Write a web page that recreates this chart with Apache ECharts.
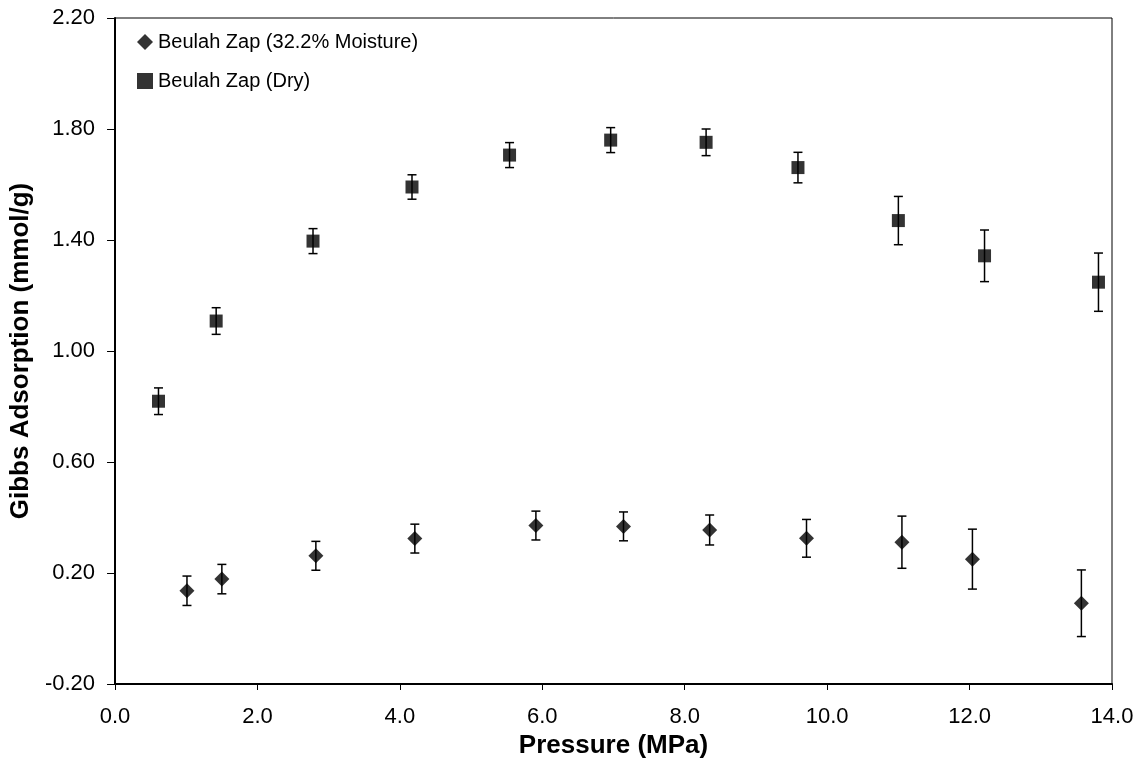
<!DOCTYPE html>
<html><head><meta charset="utf-8">
<script src="https://cdn.jsdelivr.net/npm/echarts@6/dist/echarts.min.js"></script>
<style>html,body{margin:0;padding:0;background:#fff}#c{width:1147px;height:765px}</style>
</head><body><div id="c"></div>
<script>
// Beulah Zap (32.2% Moisture)
const moistX   = [1.01, 1.50, 2.82, 4.21, 5.91, 7.14, 8.35, 9.71, 11.05, 12.04, 13.57];
const moistY   = [0.136, 0.178, 0.262, 0.324, 0.371, 0.368, 0.355, 0.325, 0.311, 0.250, 0.091];
const moistErr = [0.053, 0.053, 0.052, 0.052, 0.052, 0.052, 0.054, 0.068, 0.094, 0.108, 0.120];
// Beulah Zap (Dry)
const dryX   = [0.61, 1.42, 2.78, 4.17, 5.54, 6.96, 8.30, 9.59, 11.00, 12.21, 13.81];
const dryY   = [0.819, 1.108, 1.396, 1.591, 1.706, 1.760, 1.752, 1.661, 1.470, 1.343, 1.248];
const dryErr = [0.048, 0.048, 0.045, 0.044, 0.045, 0.045, 0.048, 0.055, 0.087, 0.093, 0.105];
const yTicks = [-0.2, 0.2, 0.6, 1.0, 1.4, 1.8, 2.2];
const seriesNames = ['Beulah Zap (32.2% Moisture)', 'Beulah Zap (Dry)'];

const FONT = '"Liberation Sans", Arial, sans-serif';
const pts = (xs, ys) => xs.map((x, i) => [x, ys[i]]);
const errs = (xs, ys, es) => xs.map((x, i) => [x, ys[i] - es[i], ys[i] + es[i]]);

function errItem(params, api) {
  const x = api.value(0), lo = api.value(1), hi = api.value(2);
  const pLo = api.coord([x, lo]), pHi = api.coord([x, hi]);
  const hw = 4.5;
  const style = { stroke: '#000', lineWidth: 1.5, fill: null };
  return { type: 'group', children: [
    { type: 'line', shape: { x1: pLo[0], y1: pLo[1], x2: pHi[0], y2: pHi[1] }, style },
    { type: 'line', shape: { x1: pHi[0] - hw, y1: pHi[1], x2: pHi[0] + hw, y2: pHi[1] }, style },
    { type: 'line', shape: { x1: pLo[0] - hw, y1: pLo[1], x2: pLo[0] + hw, y2: pLo[1] }, style }
  ]};
}

const chart = echarts.init(document.getElementById('c'), null, { renderer: 'canvas' });
chart.setOption({
  animation: false,
  backgroundColor: '#fff',
  textStyle: { fontFamily: FONT, color: '#000' },
  grid: { left: 115, right: 35, top: 18, bottom: 81, show: true, borderColor: '#000', borderWidth: 1, backgroundColor: 'transparent' },
  legend: {
    data: [
      { name: seriesNames[0], icon: 'diamond' },
      { name: seriesNames[1], icon: 'rect' }
    ],
    orient: 'vertical', left: 132, top: 27,
    itemWidth: 16, itemHeight: 16, itemGap: 19,
    textStyle: { fontFamily: FONT, fontSize: 20, color: '#000' }
  },
  xAxis: {
    type: 'value', min: 0, max: 14, interval: 2,
    name: 'Pressure (MPa)', nameLocation: 'middle', nameGap: 48,
    nameTextStyle: { fontFamily: FONT, fontSize: 26, fontWeight: 'bold', color: '#000' },
    axisLine: { show: true, onZero: false, lineStyle: { color: '#000', width: 2 } },
    axisTick: { show: true, inside: false, length: 6, lineStyle: { color: '#000', width: 1 } },
    axisLabel: { fontFamily: FONT, fontSize: 22, color: '#000', margin: 22, formatter: v => v.toFixed(1) },
    splitLine: { show: false }
  },
  yAxis: {
    type: 'value', min: -0.2, max: 2.2,
    name: 'Gibbs Adsorption (mmol/g)', nameLocation: 'middle', nameGap: 78,
    nameTextStyle: { fontFamily: FONT, fontSize: 26, fontWeight: 'bold', color: '#000' },
    axisLine: { show: true, onZero: false, lineStyle: { color: '#000', width: 2 } },
    axisTick: { show: true, inside: false, length: 8, customValues: yTicks, lineStyle: { color: '#000', width: 1 } },
    axisLabel: { fontFamily: FONT, fontSize: 22, color: '#000', margin: 20, customValues: yTicks, formatter: v => v.toFixed(2) },
    splitLine: { show: false }
  },
  series: [
    { name: 'err-moist', type: 'custom', renderItem: errItem, data: errs(moistX, moistY, moistErr), encode: { x: 0, y: [1, 2] }, z: 2, silent: true },
    { name: 'err-dry', type: 'custom', renderItem: errItem, data: errs(dryX, dryY, dryErr), encode: { x: 0, y: [1, 2] }, z: 2, silent: true },
    { name: seriesNames[0], type: 'scatter', symbol: 'diamond', symbolSize: 15, data: pts(moistX, moistY), itemStyle: { color: '#000' }, z: 3 },
    { name: seriesNames[1], type: 'scatter', symbol: 'rect', symbolSize: 13, data: pts(dryX, dryY), itemStyle: { color: '#000' }, z: 3 }
  ]
});
</script>
</body></html>
